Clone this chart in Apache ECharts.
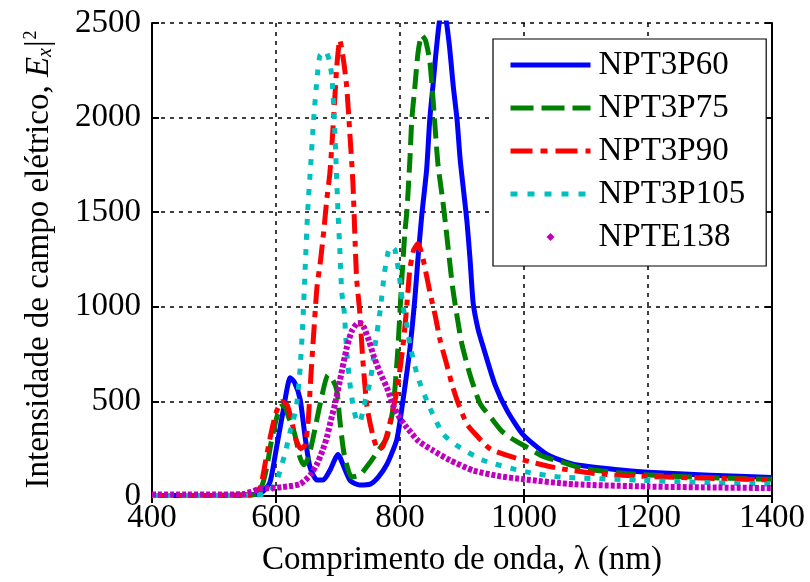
<!DOCTYPE html>
<html>
<head>
<meta charset="utf-8">
<script src="https://cdn.jsdelivr.net/npm/echarts@6/dist/echarts.min.js"></script>
<style>
html,body{margin:0;padding:0;background:#fff;}
#chart{width:810px;height:582px;}
</style>
</head>
<body>
<div id="chart"></div>
<script>
// ---- data (wavelength in nm, |Ex|^2) ----
const seriesNames = ['NPT3P60', 'NPT3P75', 'NPT3P90', 'NPT3P105', 'NPTE138'];

const wl60 = [400,500,550,575,590,600,611,623,630,639,647,655,666,676,687,700,710,720,735,752,765,779,795,805,816,824,829,835,843,848,853,859,866,872,879,886,892,897,903,908,913,918,926,934,953,973,998,1037,1079,1160,1200,1300,1400];
const v60  = [3,3,5,15,70,240,440,625,600,510,310,150,84,84,136,220,150,80,58,63,100,168,300,510,780,1045,1255,1480,1727,1990,2163,2373,2540,2540,2400,2163,1990,1780,1600,1450,1250,1020,880,790,590,450,326,220,168,136,126,110,98];

const wl75 = [400,500,550,568,578,585,592,600,607,613,620,630,639,645,652,660,671,684,692,698,703,710,722,735,750,765,779,789,796,803,808,811,816,819,824,829,835,841,848,853,861,868,873,878,885,892,900,913,929,950,965,982,1005,1030,1060,1095,1166,1273,1400];
const v75  = [3,3,5,10,60,150,280,400,470,480,420,330,200,165,200,310,483,640,610,560,400,220,100,110,170,240,310,470,750,1150,1400,1500,1780,1990,2163,2340,2436,2410,2300,2110,1760,1586,1450,1300,1100,950,800,640,490,400,340,300,257,210,180,145,118,100,88];

const wl90 = [400,500,550,565,575,583,590,600,610,618,625,632,640,647,652,656,660,666,672,677,682,687,692,698,703,709,714,719,724,727,730,735,740,747,757,765,772,779,787,795,805,811,816,822,829,836,848,857,865,875,884,895,908,918,945,982,1026,1063,1127,1231,1400];
const v90  = [3,3,5,10,50,180,300,440,500,480,400,300,250,270,400,620,820,1100,1250,1400,1570,1711,1950,2268,2410,2300,2163,1921,1659,1396,1150,976,720,467,310,245,260,326,430,556,798,1008,1200,1300,1334,1270,1081,950,819,700,588,480,380,340,250,205,168,142,115,100,85];

const wl105 = [400,500,560,580,590,600,608,615,622,628,634,639,643,647,651,656,661,666,671,680,686,690,694,697,700,703,706,710,714,719,724,730,735,742,752,760,768,775,781,786,792,800,805,811,816,829,848,869,890,934,1005,1060,1182,1300,1400];
const v105  = [2,2,3,10,25,70,150,230,330,400,500,680,900,1200,1500,1750,2000,2200,2330,2350,2300,2220,2000,1750,1500,1300,1080,976,766,600,483,400,390,480,609,800,980,1180,1291,1320,1300,1134,1000,903,798,625,467,330,270,189,126,100,84,70,63];

const wl138 = [400,450,500,547,574,611,639,655,666,675,682,690,695,703,714,722,730,736,742,750,757,768,779,789,800,811,830,853,880,918,960,1000,1080,1200,1300,1400];
const v138  = [8,8,8,10,37,47,63,110,168,240,310,420,483,609,782,870,910,914,890,820,745,650,572,478,410,362,290,241,190,135,105,88,62,50,45,42];

const xTicks = [400, 600, 800, 1000, 1200, 1400];
const yTicks = [0, 500, 1000, 1500, 2000, 2500];

// ---- chart ----
function pairs(xs, ys) { return xs.map((x, i) => [x, ys[i]]); }

const FONT = "'Liberation Serif', 'Times New Roman', serif";
const FS = 33;

const chart = echarts.init(document.getElementById('chart'), null, {renderer: 'canvas'});

const baseX = {
  type: 'value', min: xTicks[0], max: xTicks[xTicks.length - 1], interval: 200
};
const baseY = {
  type: 'value', min: yTicks[0], max: yTicks[yTicks.length - 1], interval: 500
};

const styles = [
  {color: '#0000ff', type: 'solid', width: 5},
  {color: '#008000', type: [20, 8], width: 5},
  {color: '#ff0000', type: [20, 7, 6, 7], width: 5},
  {color: '#00bfbf', type: [6, 9], width: 5},
  {color: '#bf00bf', type: [4, 2], width: 6}
];
const legendTypes = [
  'solid',
  [23, 8],
  [22, 8, 7, 8],
  [7, 10]
];
const datasets = [pairs(wl60, v60), pairs(wl75, v75), pairs(wl90, v90), pairs(wl105, v105), pairs(wl138, v138)];

const series = seriesNames.map((name, i) => ({
  name: name,
  type: 'line',
  xAxisIndex: 0, yAxisIndex: 0,
  data: datasets[i],
  smooth: 0.2,
  symbol: i === 4 ? 'diamond' : 'none',
  showSymbol: false,
  symbolSize: 8,
  lineStyle: {color: styles[i].color, width: styles[i].width, type: styles[i].type, cap: 'butt', join: 'round'},
  itemStyle: {color: styles[i].color},
  clip: true,
  animation: false
}));

const numFmt = v => String(v);

chart.setOption({
  animation: false,
  backgroundColor: '#ffffff',
  grid: {left: 152, right: 38, top: 23, bottom: 83, containLabel: false},
  legend: {
    orient: 'vertical',
    left: 493, top: 39,
    padding: [9, 21, 12, 15],
    itemWidth: 80, itemHeight: 10, itemGap: 9,
    backgroundColor: '#ffffff',
    borderColor: '#000000', borderWidth: 1.2,
    textStyle: {fontFamily: FONT, fontSize: FS, color: '#000', lineHeight: 34, padding: [0, 0, 0, 3]},
    data: seriesNames.map((n, i) => i === 4
      ? {name: n, lineStyle: {opacity: 0}}
      : {name: n, itemStyle: {opacity: 0}, lineStyle: {width: 5, type: legendTypes[i], color: styles[i].color, cap: 'butt'}})
  },
  xAxis: [
    Object.assign({}, baseX, {
      position: 'bottom',
      name: 'Comprimento de onda, λ (nm)',
      nameLocation: 'middle', nameGap: 48,
      nameTextStyle: {fontFamily: FONT, fontSize: FS, color: '#000'},
      axisLine: {lineStyle: {color: '#000', width: 2}},
      axisTick: {inside: true, length: 7, lineStyle: {color: '#000', width: 2}},
      axisLabel: {fontFamily: FONT, fontSize: FS, color: '#000', margin: 6, formatter: numFmt},
      splitLine: {show: true, lineStyle: {color: '#000', width: 1.5, type: [4, 5]}}
    }),
    Object.assign({}, baseX, {
      position: 'top',
      axisLine: {lineStyle: {color: '#000', width: 2}},
      axisTick: {inside: true, length: 7, lineStyle: {color: '#000', width: 2}},
      axisLabel: {show: false},
      splitLine: {show: false}
    })
  ],
  yAxis: [
    Object.assign({}, baseY, {
      position: 'left',
      name: '{a|Intensidade de campo elétrico, }{e|E}{s|x}{a||}{p|2}',
      nameLocation: 'middle', nameGap: 96, nameRotate: 90,
      nameTextStyle: {
        fontFamily: FONT, fontSize: FS, color: '#000',
        rich: {
          a: {fontFamily: FONT, fontSize: FS, color: '#000'},
          e: {fontFamily: FONT, fontSize: FS, color: '#000', fontStyle: 'italic'},
          s: {fontFamily: FONT, fontSize: 20, color: '#000', fontStyle: 'italic', verticalAlign: 'bottom', padding: [14, 1, 0, 0]},
          p: {fontFamily: FONT, fontSize: 18, color: '#000', verticalAlign: 'top', padding: [0, 0, 16, 1]}
        }
      },
      axisLine: {lineStyle: {color: '#000', width: 2}},
      axisTick: {inside: true, length: 7, lineStyle: {color: '#000', width: 2}},
      axisLabel: {fontFamily: FONT, fontSize: FS, color: '#000', margin: 11, formatter: numFmt},
      splitLine: {show: true, lineStyle: {color: '#000', width: 1.5, type: [4, 5]}}
    }),
    Object.assign({}, baseY, {
      position: 'right',
      axisLine: {lineStyle: {color: '#000', width: 2}},
      axisTick: {inside: true, length: 7, lineStyle: {color: '#000', width: 2}},
      axisLabel: {show: false},
      splitLine: {show: false}
    })
  ],
  series: series
});
</script>
</body>
</html>
